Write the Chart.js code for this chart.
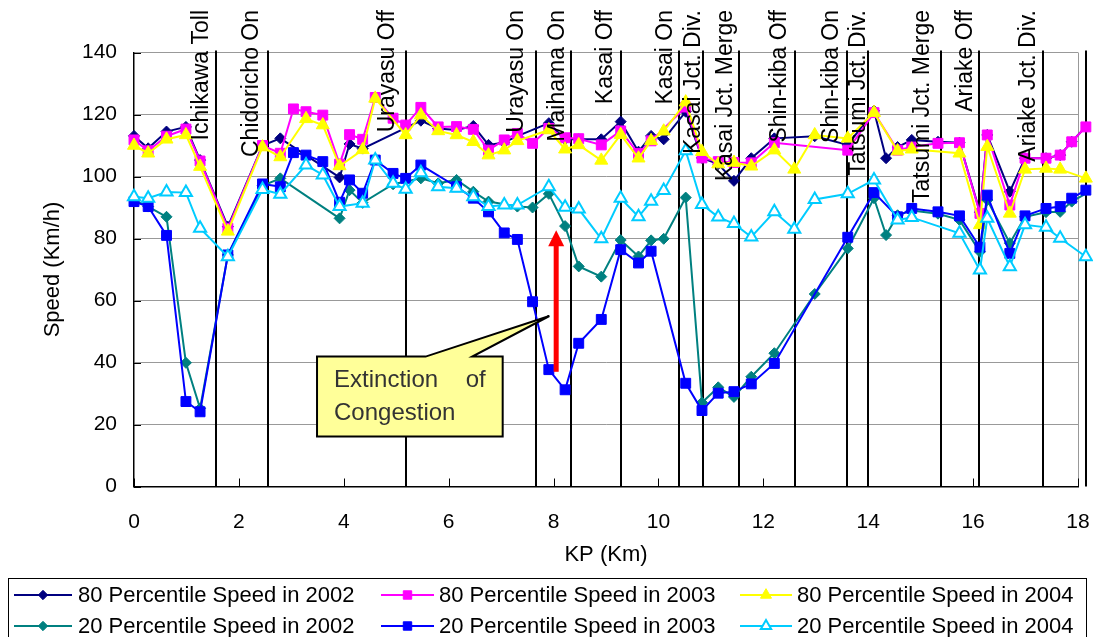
<!DOCTYPE html>
<html>
<head>
<meta charset="utf-8">
<title>KP speed profile</title>
<script src="https://cdn.jsdelivr.net/npm/chart.js@4.4.1/dist/chart.umd.min.js"></script>
<style>
  html, body { margin: 0; padding: 0; background: #fff; }
  #wrap { width: 1093px; height: 637px; }
</style>
</head>
<body>
<div id="wrap"><canvas id="kp-speed-chart" width="1093" height="637"></canvas></div>
<script>
// kilometre posts of the detector sections
const kp = [
  0, 0.27, 0.62, 0.99, 1.26, 1.79, 2.45, 2.79, 3.04, 3.28,
  3.60, 3.92, 4.11, 4.36, 4.60, 4.94, 5.18, 5.47, 5.80, 6.15,
  6.47, 6.76, 7.06, 7.31, 7.60, 7.91, 8.22, 8.48, 8.91, 9.28,
  9.62, 9.86, 10.10, 10.52, 10.83, 11.14, 11.44, 11.77, 12.21, 12.59,
  12.98, 13.61, 14.11, 14.34, 14.56, 14.83, 15.33, 15.74, 16.13, 16.27,
  16.70, 16.99, 17.39, 17.66, 17.88, 18.15
];

// speeds in km/h, null where a year has no reading at that post
const p80_2002 = [
  113.1, 109.1, 114.5, 116, 105.3, 83.8, 110, 112.3, null, null,
  null, 99.7, 110.5, 109, null, null, null, 118, 115.5, 115,
  116.3, 110.2, 111, 113, null, 117.2, 112, 112, 112, 117.7,
  108, 113.1, 112, 120.9, 106, 104, 98.6, 105.9, 112.3, null,
  113, 110.2, 121.2, 105.9, 109.5, 111.8, 111.2, 110.9, 88.5, 113.4,
  95.1, 105.9, 105.9, 106.9, 111.2, 116.1
];
const p80_2003 = [
  111.8, 108.3, 113, 115.3, 105, 83.3, 110, 107.5, 121.8, 120.9,
  119.8, 104, 113.5, 112, 125.5, 118.8, 116.6, 122.3, 116, 116.1,
  115.2, 108.5, 111.8, 113.9, 110.7, 115.5, 112.5, 112.2, 110.2, 114.7,
  107.4, 111.5, null, 122.4, 106, 104.8, 104.5, 104.4, 110.9, null,
  null, 108.5, 120.6, null, 108.5, 109.5, 110.7, 110.9, 88.1, 113.4,
  90.8, 105.9, 105.9, 106.9, 111.2, 116
];
const p80_2004 = [
  110, 107.5, 112, 113.4, 103.2, 82.3, 109.5, 106.3, null, 118.6,
  116.6, 103.4, null, 108.6, 125.2, null, 113.4, 119.8, 114.7, 113.4,
  111.2, 106.9, 108.5, 111.5, null, 115, 108.8, 110.2, 105.2, 113.5,
  105.9, 111.5, 114.6, 124, 108, 104, 104.5, 103.3, 108.5, 102.3,
  113.4, 112.3, 120.6, null, 108.2, 108.8, null, 107.5, 84.4, 109.6,
  88.1, 102.3, 102.6, 102.3, null, 99.4
];
const p20_2002 = [
  92.5, 90.3, 87, 39.9, 25.2, 74.7, 97, 99.4, null, null,
  null, 86.5, 95.6, 91.5, null, 97.5, null, 99.4, 97.8, 98.9,
  95.1, 91.9, null, 90.3, 90, 94.4, 84, 71, 67.7, 79.5,
  74.2, 79.4, 79.9, 93.2, 27.1, 32, 28.9, 35.4, 43, null,
  62.1, 76.8, 93, 81.1, 87.5, 89, 88, 86, 75.7, 92.4,
  78.5, 87, 88.5, 88.6, 91.9, 94.5
];
const p20_2003 = [
  91.9, 90.3, 81, 27.4, 24.1, 74.7, 97.6, 96.7, 107.7, 106.9,
  104.8, 91.7, 98.9, 94.6, 105.3, 101, 99.4, 103.7, null, 96.7,
  93, 88.6, 81.8, 79.7, 59.6, 37.7, 31.2, 46.2, 53.9, 76.4,
  72.1, 75.9, null, 33.3, 24.5, 30.1, 30.6, 33.1, 39.7, null,
  null, 80.4, 94.8, null, 87, 89.7, 88.6, 87.3, 77.2, 94,
  75.2, 87.3, 89.7, 90.3, 93, 95.6
];
const p20_2004 = [
  93.5, 93, 95, 94.8, 83.3, 74.1, 95.8, 94.3, null, 103.7,
  100.5, 90.3, null, 91.4, 105.3, 97.8, 95.9, 101.2, 96.7, 96.2,
  93.5, 90.3, 90.8, 90.8, null, 96.7, 90.1, 89.5, 79.9, 93,
  87, 92, 95.5, 108.3, 91, 86.9, 84.8, 80.5, 88.6, 83,
  92.6, 94.4, 98.9, null, 86, 86.8, null, 81.7, 69.8, 86.5,
  70.9, 84.4, 83.6, 80.1, null, 74.1
];

const seriesNames = [
  '80 Percentile Speed in 2002', '80 Percentile Speed in 2003', '80 Percentile Speed in 2004',
  '20 Percentile Speed in 2002', '20 Percentile Speed in 2003', '20 Percentile Speed in 2004'
];

// interchange / junction boundaries (km) and their names
const sectionKp = [1.57, 2.55, 5.18, 7.66, 8.34, 9.29, 10.39, 10.85, 11.53, 12.60, 13.60, 14.00, 15.38, 16.11, 17.34, 18.15];
const sectionNames = [
  'Ichikawa Toll', 'Chidoricho On', 'Urayasu Off', 'Urayasu On', 'Maihama On', 'Kasai Off',
  'Kasai On', 'Kasai Jct. Div.', 'Kasai Jct. Merge', 'Shin-kiba Off', 'Shin-kiba On',
  'Tatsumi Jct. Div.', 'Tatsumi Jct. Merge', 'Ariake Off', 'Ariake Jct. Div.'
];
const sectionNameKp = [1.41, 2.36, 4.96, 7.41, 8.19, 9.11, 10.25, 10.79, 11.41, 12.43, 13.42, 13.93, 15.16, 15.97, 17.18];

// callout and arrow, in km / km/h
const calloutLines = ['Extinction of', 'Congestion'];
const calloutBox = { left: 3.49, right: 7.03, top: 41.9, bottom: 16.1 };
const calloutPointer = { baseFrom: 5.56, baseTo: 6.45, tipKp: 7.92, tipSpeed: 55 };
const arrow = { kp: 8.05, from: 37, to: 82.7 };

const colors = ['#000080', '#ff00ff', '#ffff00', '#008080', '#0000ff', '#00ccff'];
const markers = ['rectRot', 'rect', 'triangle', 'rectRot', 'rect', 'triangle'];
const markerRadius = [5.5, 7, 7.5, 5.5, 7, 7];
const FONT = 'Liberation Sans, Arial, sans-serif';
const TICK_FONT = 'Liberation Sans Narrow, Arial Narrow, Liberation Sans, sans-serif';

const speedSeries = [p80_2002, p80_2003, p80_2004, p20_2002, p20_2003, p20_2004];

function markerPath(ctx, style, x, y, r) {
  ctx.beginPath();
  if (style === 'rectRot') {
    ctx.moveTo(x - r, y); ctx.lineTo(x, y - r); ctx.lineTo(x + r, y); ctx.lineTo(x, y + r);
  } else if (style === 'rect') {
    const s = r * Math.SQRT1_2;
    ctx.rect(x - s, y - s, 2 * s, 2 * s);
  } else {
    ctx.moveTo(x, y - r); ctx.lineTo(x + r * 0.866, y + r / 2); ctx.lineTo(x - r * 0.866, y + r / 2);
  }
  ctx.closePath();
}

const decorations = {
  id: 'decorations',
  beforeDatasetsDraw(chart) {
    const { ctx, chartArea, scales: { x } } = chart;
    ctx.save();
    ctx.strokeStyle = '#000';
    ctx.lineWidth = 2;
    sectionKp.forEach(k => {
      const px = Math.round(x.getPixelForValue(k));
      ctx.beginPath();
      ctx.moveTo(px, chartArea.top - 2);
      ctx.lineTo(px, chartArea.bottom);
      ctx.stroke();
    });
    ctx.restore();
  },
  afterDatasetsDraw(chart) {
    const { ctx, chartArea, scales: { x, y } } = chart;
    ctx.save();

    // section names, rotated, ending near the top of the canvas
    ctx.fillStyle = '#000';
    ctx.font = '23px ' + FONT;
    ctx.textAlign = 'right';
    ctx.textBaseline = 'alphabetic';
    sectionNames.forEach((name, i) => {
      ctx.save();
      ctx.translate(x.getPixelForValue(sectionNameKp[i]), 10);
      ctx.rotate(-Math.PI / 2);
      ctx.fillText(name, 0, 0);
      ctx.restore();
    });

    // inside tick marks
    ctx.strokeStyle = '#000';
    ctx.lineWidth = 1;
    y.ticks.forEach(t => {
      const py = Math.round(y.getPixelForValue(t.value)) + 0.5;
      ctx.beginPath(); ctx.moveTo(chartArea.left, py); ctx.lineTo(chartArea.left + 7, py); ctx.stroke();
    });
    x.ticks.forEach(t => {
      const px = Math.round(x.getPixelForValue(t.value)) + 0.5;
      ctx.beginPath(); ctx.moveTo(px, chartArea.bottom); ctx.lineTo(px, chartArea.bottom - 8); ctx.stroke();
    });

    // callout box with pointer
    const bl = x.getPixelForValue(calloutBox.left), br = x.getPixelForValue(calloutBox.right);
    const bt = y.getPixelForValue(calloutBox.top), bb = y.getPixelForValue(calloutBox.bottom);
    ctx.beginPath();
    ctx.moveTo(bl, bt);
    ctx.lineTo(x.getPixelForValue(calloutPointer.baseFrom), bt);
    ctx.lineTo(x.getPixelForValue(calloutPointer.tipKp), y.getPixelForValue(calloutPointer.tipSpeed));
    ctx.lineTo(x.getPixelForValue(calloutPointer.baseTo), bt);
    ctx.lineTo(br, bt);
    ctx.lineTo(br, bb);
    ctx.lineTo(bl, bb);
    ctx.closePath();
    ctx.fillStyle = '#ffff99';
    ctx.fill();
    ctx.strokeStyle = '#000';
    ctx.lineWidth = 2;
    ctx.stroke();

    ctx.fillStyle = '#333';
    ctx.font = '24px ' + FONT;
    ctx.textAlign = 'left';
    const textLeft = bl + 17, textRight = br - 17;
    calloutLines.forEach((line, i) => {
      const by = bt + 30 + i * 33;
      const words = line.split(' ');
      if (i < calloutLines.length - 1 && words.length > 1) {
        const used = words.reduce((s, w) => s + ctx.measureText(w).width, 0);
        const gap = (textRight - textLeft - used) / (words.length - 1);
        let cx = textLeft;
        words.forEach(w => { ctx.fillText(w, cx, by); cx += ctx.measureText(w).width + gap; });
      } else {
        ctx.fillText(line, textLeft, by);
      }
    });

    // red arrow
    const ax = x.getPixelForValue(arrow.kp);
    const ay0 = y.getPixelForValue(arrow.from), ay1 = y.getPixelForValue(arrow.to);
    ctx.fillStyle = '#ff0000';
    ctx.fillRect(ax - 2.5, ay1 + 14, 5, ay0 - ay1 - 14);
    ctx.beginPath();
    ctx.moveTo(ax, ay1);
    ctx.lineTo(ax + 8, ay1 + 16);
    ctx.lineTo(ax - 8, ay1 + 16);
    ctx.closePath();
    ctx.fill();
    ctx.restore();
  },
  afterDraw(chart) {
    const { ctx } = chart;
    ctx.save();
    // legend frame and entries
    ctx.strokeStyle = '#000';
    ctx.lineWidth = 1;
    ctx.strokeRect(8.5, 578.5, 1078, 80);
    const lineX = [[14, 72], [381, 434], [740, 792]];
    const textX = [78, 439, 797];
    const rowY = [595, 626];
    ctx.font = '22px ' + FONT;
    ctx.textBaseline = 'middle';
    ctx.textAlign = 'left';
    seriesNames.forEach((name, i) => {
      const col = i % 3, ly = rowY[Math.floor(i / 3)];
      const [x0, x1] = lineX[col];
      ctx.strokeStyle = colors[i];
      ctx.lineWidth = 2;
      ctx.beginPath(); ctx.moveTo(x0, ly); ctx.lineTo(x1, ly); ctx.stroke();
      markerPath(ctx, markers[i], (x0 + x1) / 2, ly, markerRadius[i] * 0.85);
      ctx.fillStyle = i === 5 ? '#fff' : colors[i];
      ctx.fill();
      ctx.lineWidth = i === 5 ? 2 : 1;
      ctx.stroke();
      ctx.fillStyle = '#000';
      ctx.fillText(name, textX[col], ly + 1);
    });
    ctx.restore();
  }
};

new Chart(document.getElementById('kp-speed-chart').getContext('2d'), {
  type: 'line',
  data: {
    datasets: speedSeries.map((vals, i) => ({
      label: seriesNames[i],
      data: kp.map((k, j) => ({ x: k, y: vals[j] })),
      borderColor: colors[i],
      borderWidth: 2,
      pointStyle: markers[i],
      pointRadius: markerRadius[i],
      pointBackgroundColor: i === 5 ? '#ffffff' : colors[i],
      pointBorderColor: colors[i],
      pointBorderWidth: i === 5 ? 2 : 1,
      spanGaps: true,
      tension: 0,
      clip: false,
      order: 5 - i
    }))
  },
  options: {
    responsive: false,
    animation: false,
    layout: { padding: { left: 0, top: 52.5, right: 15, bottom: 0 } },
    plugins: { legend: { display: false }, tooltip: { enabled: false } },
    scales: {
      x: {
        type: 'linear',
        min: 0,
        max: 18,
        ticks: { stepSize: 2, color: '#000', padding: 23, font: { family: TICK_FONT, size: 21 } },
        grid: {
          drawTicks: false,
          color: c => (c.tick && c.tick.value === 18 ? '#999999' : 'rgba(0,0,0,0)')
        },
        border: { color: '#000', width: 1.5 },
        title: {
          display: true, text: 'KP (Km)', color: '#000',
          font: { family: FONT, size: 22 }, padding: { top: 0, bottom: 69 }
        },
        afterFit: s => { s.height = 150.5; s.paddingLeft = 0; s.paddingRight = 0; }
      },
      y: {
        min: 0,
        max: 140,
        ticks: { stepSize: 20, color: '#000', padding: 17, font: { family: TICK_FONT, size: 21 } },
        grid: { drawTicks: false, color: '#999999' },
        border: { color: '#000', width: 1.5 },
        title: {
          display: true, text: 'Speed (Km/h)', color: '#000',
          font: { family: FONT, size: 22 }, padding: { top: 40, bottom: 0 }
        },
        afterFit: s => { s.width = 134; }
      }
    }
  },
  plugins: [decorations]
});
</script>
</body>
</html>
